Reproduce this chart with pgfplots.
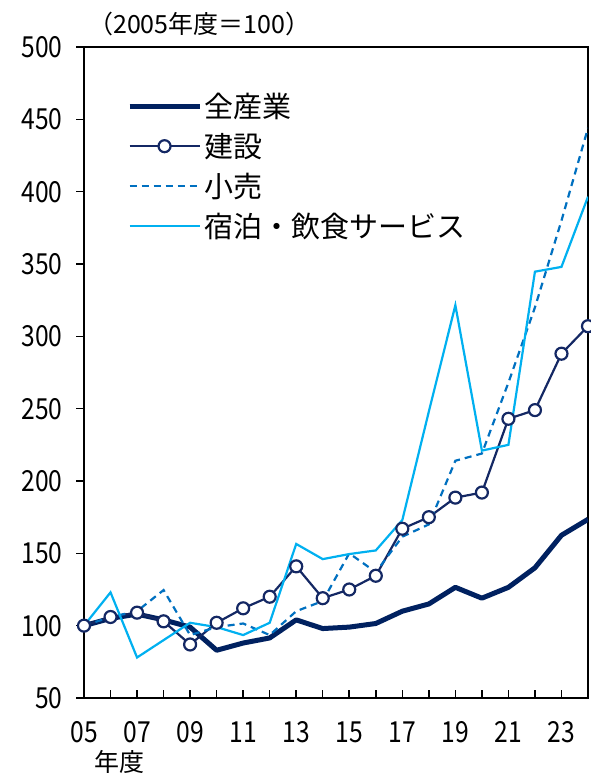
\documentclass[border=0pt]{standalone}
\usepackage{fontspec}
\setmainfont{Noto Sans CJK JP}
\newfontfamily\numfont[FakeStretch=0.85]{Noto Sans CJK JP}
\usepackage{pgfplots}
\pgfplotsset{compat=1.18}
\definecolor{allind}{RGB}{0,33,96}
\definecolor{constr}{RGB}{20,40,100}
\definecolor{retail}{RGB}{0,112,192}
\definecolor{hotel}{RGB}{0,176,240}
\begin{document}
\begin{tikzpicture}
\begin{axis}[
  at={(84pt,76pt)}, anchor=south west,
  scale only axis, width=504pt, height=651pt,
  xmin=2005, xmax=2024, ymin=50, ymax=500,
  xtick={2005,...,2024},
  xticklabels={05,,07,,09,,11,,13,,15,,17,,19,,21,,23,},
  ytick={50,100,...,500},
  xtick pos=bottom, ytick pos=left,
  xtick align=inside, ytick align=outside,
  major tick length=8pt,
  tick style={black, line width=1.5pt},
  axis line style={black, line width=1.5pt},
  tick label style={font=\numfont\fontsize{29}{30}\selectfont},
  /pgf/number format/assume math mode=true,
  yticklabel style={xshift=-10pt},
  xticklabel style={yshift=-20pt},
  legend cell align=left,
  legend style={draw=none, fill=none, at={(0.085,0.932)}, anchor=north west,
    font=\fontsize{29}{30}\selectfont, row sep=10pt, inner sep=0pt,
    /tikz/every even column/.append style={column sep=5pt}},
  legend image code/.code={\draw[mark repeat=2,mark phase=2,#1] plot coordinates {(0pt,0pt) (35pt,0pt) (70pt,0pt)};},
]
\addplot[allind, line width=5pt, line join=round] coordinates {
(2005,100)(2006,105)(2007,108)(2008,104)(2009,99)(2010,83)(2011,88)(2012,91.5)(2013,104)(2014,98)
(2015,99)(2016,101.5)(2017,110)(2018,115)(2019,126.5)(2020,119)(2021,126.5)(2022,140)(2023,162.5)(2024,173.5)};
\addlegendentry{全産業}
\addplot[constr, line width=2.2pt, mark=*, mark size=6pt, mark options={fill=white, line width=2.2pt}] coordinates {
(2005,100)(2006,106)(2007,109)(2008,103)(2009,87)(2010,102)(2011,112)(2012,120)(2013,141)(2014,119)
(2015,125)(2016,134.5)(2017,167)(2018,175)(2019,188.5)(2020,192)(2021,243)(2022,249)(2023,288)(2024,307)};
\addlegendentry{建設}
\addplot[retail, line width=2.2pt, dash pattern=on 7pt off 5pt] coordinates {
(2005,100)(2006,106)(2007,110)(2008,124.6)(2009,93.5)(2010,99)(2011,101.5)(2012,93.5)(2013,110)(2014,117)
(2015,150)(2016,137)(2017,161.5)(2018,170)(2019,214)(2020,219)(2021,268)(2022,320)(2023,380)(2024,444)};
\addlegendentry{小売}
\addplot[hotel, line width=2.2pt] coordinates {
(2005,100)(2006,123)(2007,78)(2008,90)(2009,102)(2010,99)(2011,93.5)(2012,102)(2013,156.5)(2014,146)
(2015,149.5)(2016,152)(2017,173)(2018,248)(2019,321.5)(2020,221)(2021,225)(2022,344.7)(2023,348)(2024,396.5)};
\addlegendentry{宿泊・飲食サービス}
\end{axis}
\node[anchor=west, font=\fontsize{25}{26}\selectfont, inner sep=0pt] at (88pt,750pt) {（2005年度＝100）};
\node[anchor=south west, font=\fontsize{25}{26}\selectfont, inner sep=0pt] at (94pt,0pt) {年度};
\pgfresetboundingbox
\path[use as bounding box] (0pt,0pt) rectangle (590pt,774pt);
\end{tikzpicture}
\end{document}
